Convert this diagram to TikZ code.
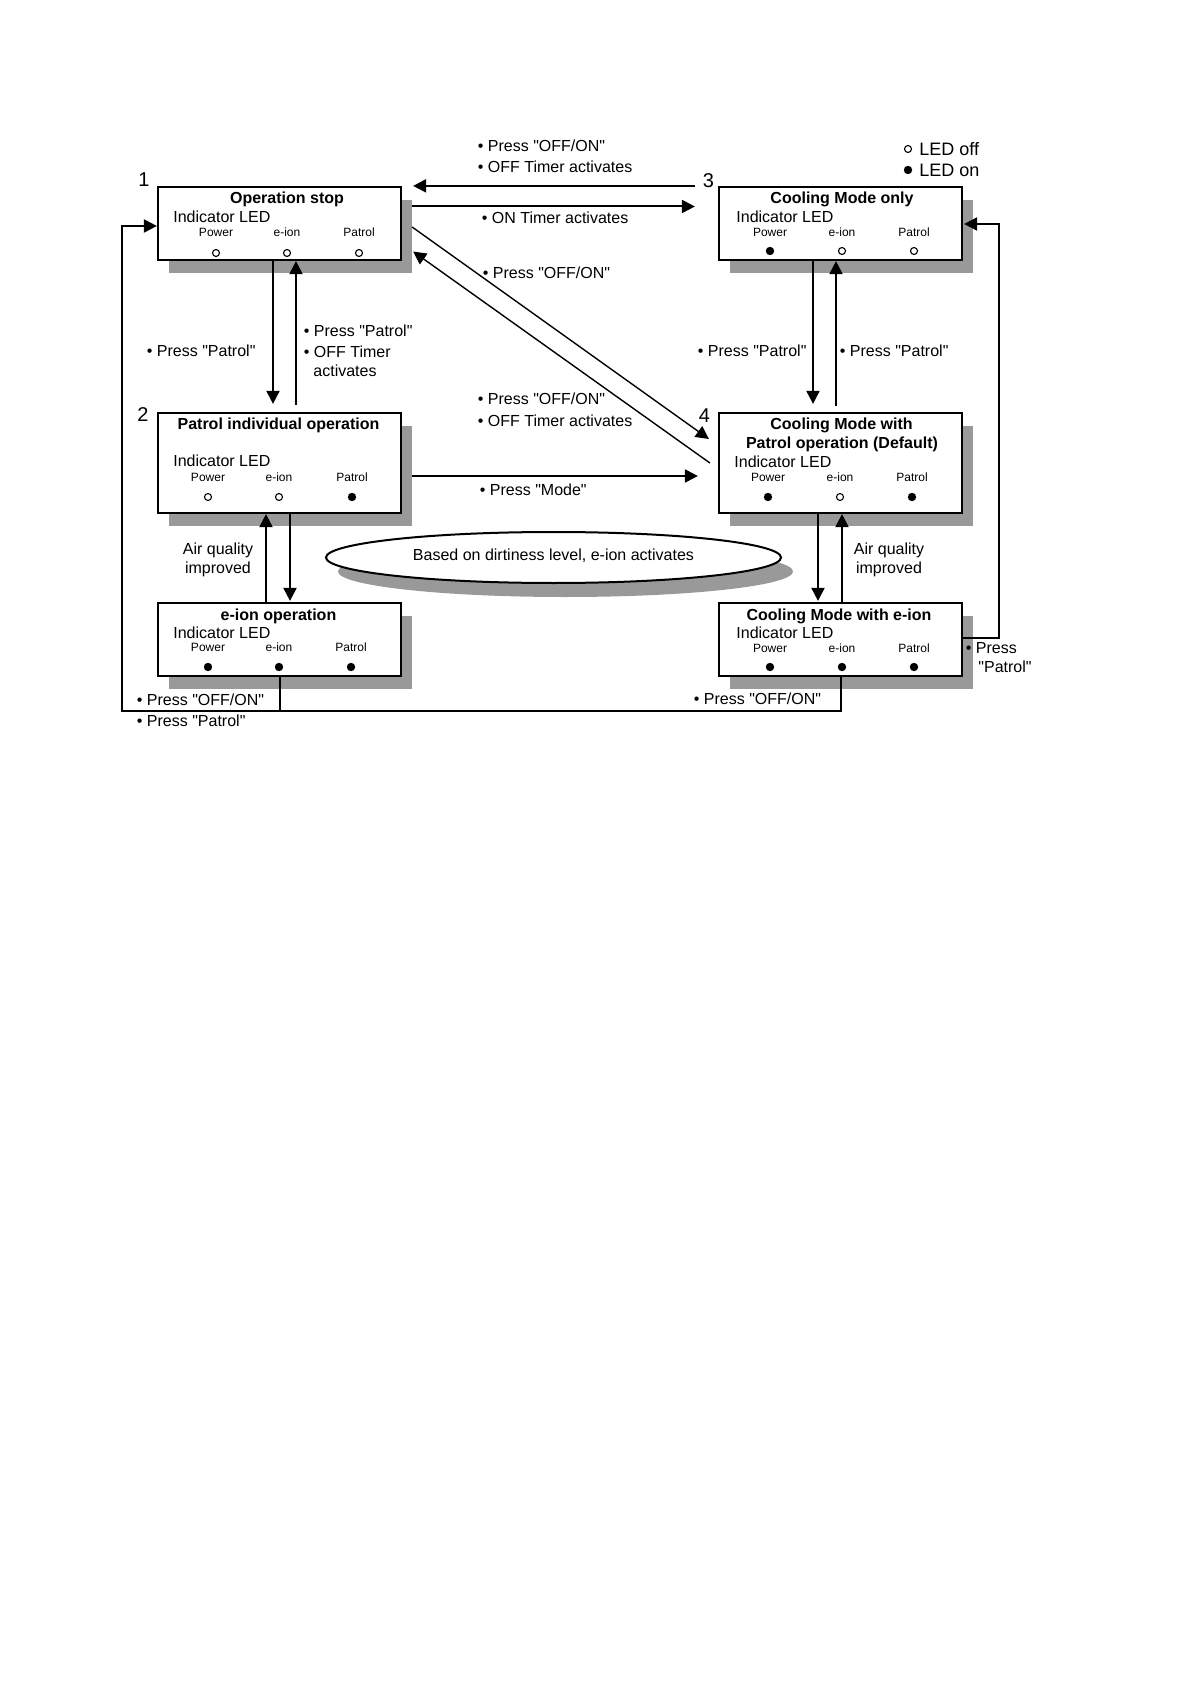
\documentclass[tikz,border=0pt]{standalone}
\usepackage{fontspec}
\setmainfont{Liberation Sans}
\newfontfamily\lib{Liberation Sans}
\usetikzlibrary{arrows.meta,calc,shadows,shapes.geometric}
\definecolor{shgray}{RGB}{153,153,153}
\begin{document}
\begin{tikzpicture}[x=0.5pt,y=-0.5pt, font=\lib,
  box/.style={draw, line width=1.1pt, fill=white, rectangle, inner sep=0pt, minimum width=121.5pt,
     drop shadow={shadow xshift=5.5pt, shadow yshift=-6.5pt, fill=shgray, opacity=1}},
  lab/.style={inner sep=0pt, font=\lib\fontsize{8}{9.6}\selectfont, text height=5.73pt, text depth=0pt},
  labw/.style={lab, anchor=west},
  ttl/.style={lab, font=\lib\bfseries\fontsize{8}{9.6}\selectfont},
  sml/.style={inner sep=0pt, font=\lib\fontsize{6}{7.2}\selectfont, text height=4.3pt, text depth=0pt},
  num/.style={inner sep=0pt, font=\lib\fontsize{10}{12}\selectfont, text height=7.16pt, text depth=0pt},
  leg/.style={inner sep=0pt, anchor=west, font=\lib\fontsize{9}{10.8}\selectfont, text height=6.45pt, text depth=0pt},
  ledoff/.style={circle, draw, line width=0.55pt, minimum size=3.5pt, inner sep=0pt},
  ledon/.style={circle, fill, minimum size=4.2pt, inner sep=0pt},
  arr/.style={line width=1pt, -{Triangle[length=6.5pt,width=6.5pt]}},
  ln/.style={line width=1pt},
  diag/.style={line width=0.7pt, -{Triangle[length=6.5pt,width=6.5pt]}}
]
\useasboundingbox (0,0) rectangle (1190,1684);

% boxes
\node[box, minimum height=36.5pt] (b1) at (279.5,223.5) {};
\node[box, minimum height=36.5pt] (b3) at (840.5,223.5) {};
\node[box, minimum height=50pt] (b2) at (279.5,463) {};
\node[box, minimum height=50pt] (b4) at (840.5,463) {};
\node[box, minimum height=36.5pt] (b5) at (279.5,639.5) {};
\node[box, minimum height=36.5pt] (b6) at (840.5,639.5) {};

% ellipse
\node[ellipse, draw, line width=1pt, fill=white, minimum width=227.5pt, minimum height=25.5pt, inner sep=0pt,
  drop shadow={shadow xshift=6pt, shadow yshift=-7pt, fill=shgray, opacity=1},
  font=\lib\fontsize{8}{9.6}\selectfont, text height=5.73pt, text depth=0pt] (ell) at (553.5,557.5)
  {\raisebox{1.2pt}{Based on dirtiness level, e-ion activates}};

% box 1 content
\node[ttl] (b1t) at (287,198) {Operation stop};
\node[labw] (b1i) at (173,216.5) {Indicator LED};
\node[sml] (b1p) at (216,232.5) {Power};
\node[sml] (b1e) at (287,232.5) {e-ion};
\node[sml] (b1r) at (359,232.5) {Patrol};
\node[ledoff] (b1l1) at (216,253) {};
\node[ledoff] (b1l2) at (287,253) {};
\node[ledoff] (b1l3) at (359,253) {};

% box 3 content
\node[ttl] (b3t) at (842,197.5) {Cooling Mode only};
\node[labw] (b3i) at (736,217) {Indicator LED};
\node[sml] (b3p) at (770,232) {Power};
\node[sml] (b3e) at (842,232) {e-ion};
\node[sml] (b3r) at (914,232) {Patrol};
\node[ledon] (b3l1) at (770,251) {};
\node[ledoff] (b3l2) at (842,251) {};
\node[ledoff] (b3l3) at (914,251) {};

% box 2 content
\node[ttl] (b2t) at (278.5,423.5) {Patrol individual operation};
\node[labw] (b2i) at (173,461) {Indicator LED};
\node[sml] (b2p) at (208,477.5) {Power};
\node[sml] (b2e) at (279,477.5) {e-ion};
\node[sml] (b2r) at (352,477.5) {Patrol};
\node[ledoff] (b2l1) at (208,497) {};
\node[ledoff] (b2l2) at (279,497) {};
\node[ledon] (b2l3) at (352,497) {};

% box 4 content
\node[ttl] (b4t) at (841.5,424) {Cooling Mode with};
\node[ttl] (b4u) at (842,443) {Patrol operation (Default)};
\node[labw] (b4i) at (734,461.5) {Indicator LED};
\node[sml] (b4p) at (768,477.5) {Power};
\node[sml] (b4e) at (840,477.5) {e-ion};
\node[sml] (b4r) at (912,477.5) {Patrol};
\node[ledon] (b4l1) at (768,497) {};
\node[ledoff] (b4l2) at (840,497) {};
\node[ledon] (b4l3) at (912,497) {};

% box 5 content
\node[ttl] (b5t) at (278.5,614.5) {e-ion operation};
\node[labw] (b5i) at (173,632.5) {Indicator LED};
\node[sml] (b5p) at (208,647.5) {Power};
\node[sml] (b5e) at (279,647.5) {e-ion};
\node[sml] (b5r) at (351,647.5) {Patrol};
\node[ledon] (b5l1) at (208,667) {};
\node[ledon] (b5l2) at (279,667) {};
\node[ledon] (b5l3) at (351,667) {};

% box 6 content
\node[ttl] (b6t) at (839,614.5) {Cooling Mode with e-ion};
\node[labw] (b6i) at (736,632.5) {Indicator LED};
\node[sml] (b6p) at (770,648) {Power};
\node[sml] (b6e) at (842,648) {e-ion};
\node[sml] (b6r) at (914,648) {Patrol};
\node[ledon] (b6l1) at (770,667) {};
\node[ledon] (b6l2) at (842,667) {};
\node[ledon] (b6l3) at (914,667) {};

% state numbers
\node[num] (n1) at (144,179) {1};
\node[num] (n2) at (143,414.5) {2};
\node[num] (n3) at (708.5,180) {3};
\node[num] (n4) at (704.5,415) {4};

% legend
\node[ledoff] (lg1) at (908,149) {};
\node[leg] (lg1t) at (919,149) {LED off};
\node[ledon] (lg2) at (908,170) {};
\node[leg] (lg2t) at (919,170) {LED on};

% connectors
\draw[arr] ($(b3.north west)+(-23,0)$) -- ($(b1.north east)+(11,0)$);
\draw[arr] ($(b1.east)+(10,-17)$) -- ($(b3.west)+(-23,-17)$);
\draw[diag] ($(b1.east)+(10,3.5)$) -- ($(b4.west)+(-9,-24)$);
\draw[diag] ($(b4.west)+(-8,0)$) -- ($(b1.east)+(11,28)$);
\draw[arr] ($(b2.east)+(10,13)$) -- ($(b4.west)+(-20,13)$);

\draw[arr] ($(b1.south)+(-6.5,0)$) -- ($(b2.north)+(-6.5,-8)$);
\draw[arr] ($(b2.north)+(16.5,-7)$) -- ($(b1.south)+(16.5,0)$);
\draw[arr] ($(b5.north)+(-13.5,0)$) -- ($(b2.south)+(-13.5,0)$);
\draw[arr] ($(b2.south)+(10.5,0)$) -- ($(b5.north)+(10.5,-1)$);

\draw[arr] ($(b3.south)+(-27.5,0)$) -- ($(b4.north)+(-27.5,-8)$);
\draw[arr] ($(b4.north)+(-4.5,-6)$) -- ($(b3.south)+(-4.5,0)$);
\draw[arr] ($(b4.south)+(-22.5,0)$) -- ($(b6.north)+(-22.5,-1)$);
\draw[arr] ($(b6.north)+(1.5,0)$) -- ($(b4.south)+(1.5,0)$);

\coordinate (cr) at (999,638);
\draw[arr] ($(b6.east)+(0,-1.5)$) -- (cr) |- ($(b3.east)+(1,0.5)$);
\coordinate (cbl) at (122,711);
\draw[arr] (b5.south) |- (cbl) |- ($(b1.west)+(0,2.5)$);
\draw[ln] (b6.south) |- (b5.south |- cbl);

% connector labels
\node[labw] (t1) at (477.5,146) {\textbullet\ Press "OFF/ON"};
\node[labw] (t2) at (477.5,167) {\textbullet\ OFF Timer activates};
\node[labw] (t3) at (481.5,218) {\textbullet\ ON Timer activates};
\node[labw] (t4) at (482.5,273) {\textbullet\ Press "OFF/ON"};
\node[labw] (t5) at (477.5,399) {\textbullet\ Press "OFF/ON"};
\node[labw] (t6) at (477.5,421) {\textbullet\ OFF Timer activates};
\node[labw] (t7) at (479.5,490) {\textbullet\ Press "Mode"};
\node[labw] (t8) at (146.5,351) {\textbullet\ Press "Patrol"};
\node[labw] (t9) at (303.5,331) {\textbullet\ Press "Patrol"};
\node[labw] (t10) at (303.5,352) {\textbullet\ OFF Timer};
\node[labw] (t11) at (313,371) {activates};
\node[labw] (t12) at (697.5,351) {\textbullet\ Press "Patrol"};
\node[labw] (t13) at (839.5,351) {\textbullet\ Press "Patrol"};
\node[lab] (t14) at (218,549) {Air quality};
\node[lab] (t15) at (218,568) {improved};
\node[lab] (t16) at (889,549) {Air quality};
\node[lab] (t17) at (889,568) {improved};
\node[labw] (t18) at (136.5,700) {\textbullet\ Press "OFF/ON"};
\node[labw] (t19) at (136.5,721) {\textbullet\ Press "Patrol"};
\node[labw] (t20) at (693.5,699) {\textbullet\ Press "OFF/ON"};
\node[labw] (t21) at (965.5,648) {\textbullet\ Press};
\node[labw] (t22) at (978,667) {"Patrol"};
\end{tikzpicture}
\end{document}
